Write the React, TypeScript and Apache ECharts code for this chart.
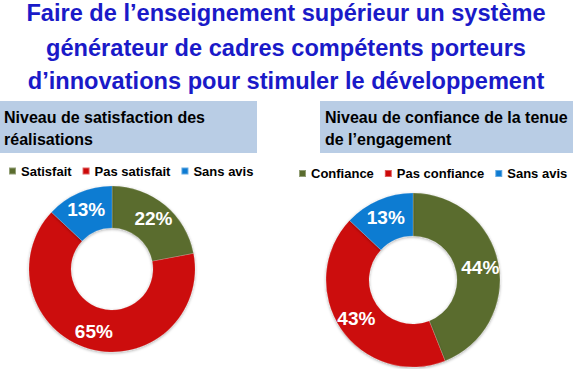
import React, { useEffect, useRef } from "react";
import * as echarts from "echarts";

const titleLines = [
  "Faire de l\u2019enseignement supérieur un système",
  "générateur de cadres compétents porteurs",
  "d\u2019innovations pour stimuler le développement",
];
const leftHeader = ["Niveau de satisfaction des", "réalisations"];
const rightHeader = ["Niveau de confiance de la tenue", "de l\u2019engagement"];

const leftCategories = ["Satisfait", "Pas satisfait", "Sans avis"];
const leftValues = [22, 65, 13];
const rightCategories = ["Confiance", "Pas confiance", "Sans avis"];
const rightValues = [44, 43, 13];

const colors = ["#5a6c2e", "#cc0808", "#0e7bd2"];
const FONT = "'Liberation Sans', Arial, sans-serif";

export default function App() {
  const ref = useRef<HTMLDivElement>(null);
  useEffect(() => {
    if (!ref.current) return;
    const chart = echarts.init(ref.current, undefined, { renderer: "svg" });
    const mkData = (cats: string[], vals: number[]) =>
      cats.map((c, i) => ({ name: c, value: vals[i], itemStyle: { color: colors[i] } }));
    const seriesCommon = {
      type: "pie",
      startAngle: 90,
      clockwise: true,
      avoidLabelOverlap: false,
      label: {
        show: true,
        position: "inside",
        formatter: "{c}%",
        color: "#ffffff",
        fontFamily: FONT,
        fontWeight: "bold",
        fontSize: 19,
      },
      labelLine: { show: false },
      itemStyle: {
        borderColor: "rgba(255,255,255,0.35)",
        borderWidth: 0.5,
        shadowColor: "rgba(0,0,0,0.35)",
        shadowBlur: 3,
        shadowOffsetY: 1,
      },
      emphasis: { disabled: true },
    };
    const legendCommon = {
      orient: "horizontal",
      icon: "rect",
      itemWidth: 7,
      itemHeight: 7,
      itemGap: 10,
      padding: 0,
      width: 290,
      textStyle: { fontFamily: FONT, fontWeight: "bold", fontSize: 13, color: "#000" },
      selectedMode: false,
    };
    const headerText = (lines: string[], x: number) =>
      lines.map((t, i) => ({
        type: "text",
        x,
        y: 117 + i * 22,
        style: {
          text: t,
          fontFamily: FONT,
          fontWeight: "bold",
          fontSize: 16,
          fill: "#000",
          textVerticalAlign: "middle",
          textAlign: "left",
        },
      }));
    chart.setOption({
      animation: false,
      color: colors,
      graphic: [
        ...titleLines.map((t, i) => ({
          type: "text",
          x: 286,
          y: [13, 47.5, 81][i],
          style: {
            text: t,
            fontFamily: FONT,
            fontWeight: "bold",
            fontSize: 23.6,
            fill: "#1a1ac8",
            textAlign: "center",
            textVerticalAlign: "middle",
          },
        })),
        { type: "rect", shape: { x: 0, y: 101, width: 257, height: 52 }, style: { fill: "#b9cde5" } },
        { type: "rect", shape: { x: 320, y: 101, width: 253, height: 52 }, style: { fill: "#b9cde5" } },
        ...headerText(leftHeader, 4),
        ...headerText(rightHeader, 325),
      ],
      legend: [
        { ...legendCommon, left: 8, top: 164.5, data: leftCategories },
        { ...legendCommon, left: 298, top: 167, data: rightCategories },
      ],
      series: [
        {
          ...seriesCommon,
          name: "Satisfaction des réalisations",
          center: [112, 269],
          radius: [41, 83],
          data: mkData(leftCategories, leftValues),
        },
        {
          ...seriesCommon,
          name: "Tenue de l'engagement",
          center: [413, 280],
          radius: [44, 87],
          data: mkData(rightCategories, rightValues),
        },
      ],
    });
    return () => chart.dispose();
  }, []);
  return (
    <div
      ref={ref}
      style={{ position: "fixed", left: 0, top: 0, width: 573, height: 369, background: "#fff" }}
    />
  );
}
